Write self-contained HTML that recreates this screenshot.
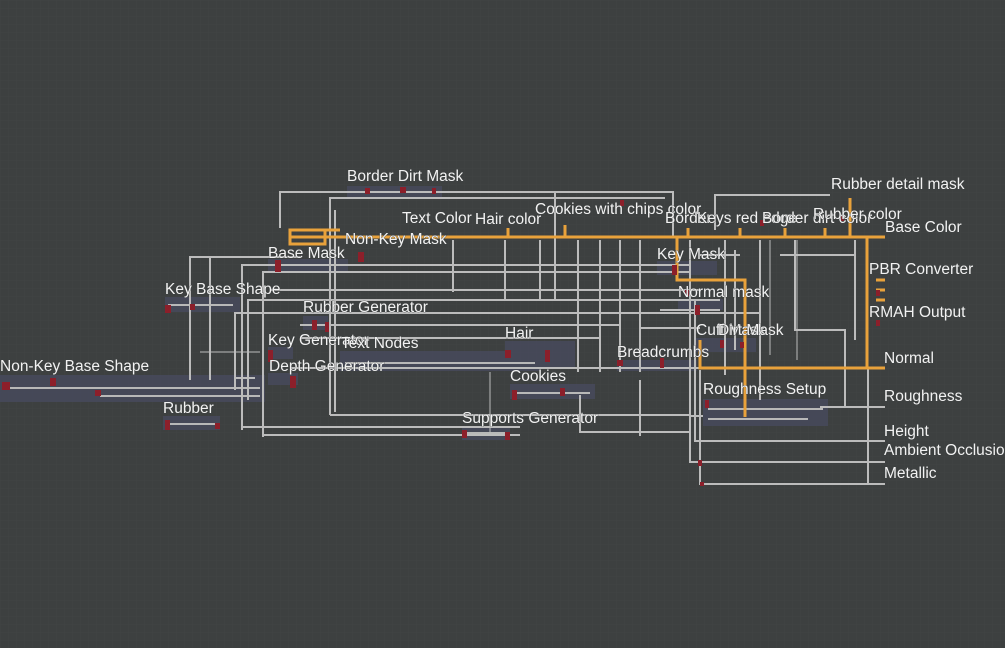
<!DOCTYPE html>
<html><head><meta charset="utf-8"><style>
html,body{margin:0;padding:0;background:#3d4040;width:1005px;height:648px;overflow:hidden}
svg{display:block}
text{font-family:"Liberation Sans","DejaVu Sans",sans-serif;font-size:15.5px;fill:#f2f2f2;stroke:#3d4040;stroke-width:0.6px;paint-order:stroke}
</style></head><body>
<svg width="1005" height="648" viewBox="0 0 1005 648" xmlns="http://www.w3.org/2000/svg">
<defs>
<pattern id="g" width="8" height="8" patternUnits="userSpaceOnUse"><path d="M8 0H0V8" fill="none" stroke="#434747" stroke-width="1"/></pattern>
</defs>
<rect width="1005" height="648" fill="#3d4040"/>
<rect width="1005" height="648" fill="url(#g)" opacity="0.6"/>

<g fill="#474a5c" opacity="0.85">
<rect x="0" y="375" width="265" height="27"/>
<rect x="165" y="297" width="75" height="15"/>
<rect x="340" y="351" width="200" height="20"/>
<rect x="505" y="341" width="70" height="27"/>
<rect x="510" y="384" width="85" height="15"/>
<rect x="703" y="399" width="125" height="27"/>
<rect x="163" y="416" width="57" height="14"/>
<rect x="462" y="426" width="48" height="14"/>
<rect x="347" y="186" width="95" height="11"/>
<rect x="617" y="360" width="80" height="11"/>
<rect x="268" y="347" width="25" height="12"/>
<rect x="268" y="373" width="30" height="12"/>
<rect x="268" y="259" width="80" height="13"/>
<rect x="303" y="316" width="25" height="14"/>
<rect x="657" y="261" width="60" height="14"/>
<rect x="678" y="299" width="45" height="11"/>
<rect x="696" y="338" width="60" height="14"/>
</g>
<g fill="#b8b8b8">
<rect x="5" y="387" width="255" height="2"/>
<rect x="100" y="395" width="160" height="2"/>
<rect x="345" y="362" width="190" height="2"/>
<rect x="708" y="408" width="115" height="2"/>
<rect x="708" y="418" width="100" height="2"/>
<rect x="515" y="392" width="75" height="2"/>
<rect x="168" y="304" width="65" height="2"/>
<rect x="170" y="423" width="45" height="2"/>
<rect x="465" y="432" width="40" height="2"/>
</g>

<g stroke="#bcbcbc" stroke-width="2" fill="none">
<path d="M280 228V192H673V238"/>
<path d="M330 415V198H665"/>
<path d="M335 412V210"/>
<path d="M190 380V257H300"/>
<path d="M210 380V257"/>
<path d="M242 430V265H690"/>
<path d="M263 437V272H690"/>
<path d="M235 390V313H760"/>
<path d="M248 400V300H700"/>
<path d="M270 290H700"/>
<path d="M300 325H620"/>
<path d="M300 338H600"/>
<path d="M255 378H235"/>
<path d="M330 415H690"/>
<path d="M242 427H520"/>
<path d="M263 435H520"/>
<path d="M290 368H700"/>
<path d="M453 240V292"/>
<path d="M505 240V300"/>
<path d="M555 192V300"/>
<path d="M540 240V300"/>
<path d="M578 240V372"/>
<path d="M600 240V372"/>
<path d="M620 240V372"/>
<path d="M640 240V372"/>
<path d="M690 240V462H885"/>
<path d="M695 300V441H885"/>
<path d="M700 370V484H885"/>
<path d="M715 230V195H830"/>
<path d="M725 240V375"/>
<path d="M735 250V350"/>
<path d="M760 240V400"/>
<path d="M795 240V330H845V407"/>
<path d="M855 240V340"/>
<path d="M820 407H885"/>
<path d="M868 368V483"/>
<path d="M690 416H703"/>
<path d="M580 395V432H690"/>
<path d="M640 380V436"/>
<path d="M610 300H720"/>
<path d="M640 275V300"/>
<path d="M660 310H720"/>
<path d="M830 255H855"/>
<path d="M700 255H740"/>
<path d="M780 255H830"/>
<path d="M640 328H700"/>
</g>
<g stroke="#bcbcbc" stroke-width="1" fill="none">
<path d="M200 352H260"/>
<path d="M490 372V435"/>
<path d="M797 240V360"/>
<path d="M770 240V355"/>
</g>

<g stroke="#e9a23b" stroke-width="3" fill="none">
<path d="M290 237H885"/>
<path d="M290 230H325V244H290Z"/>
<path d="M292 230H340"/>
<path d="M677 237V280H745V417"/>
<path d="M700 340V368H885"/>
<path d="M867 237V368"/>
<path d="M850 198V237"/>
<path d="M508 228V237"/>
<path d="M565 225V237"/>
<path d="M688 228V237"/>
<path d="M740 228V237"/>
<path d="M785 228V237"/>
<path d="M825 228V237"/>
<path d="M876 280H885M876 290H885M876 300H885"/>
</g>

<g fill="#8c1f2a">
<rect x="2" y="382" width="8" height="8"/><rect x="50" y="378" width="6" height="8"/><rect x="95" y="390" width="6" height="6"/>
<rect x="165" y="305" width="6" height="8"/><rect x="190" y="304" width="5" height="6"/>
<rect x="165" y="420" width="5" height="10"/><rect x="215" y="423" width="5" height="6"/>
<rect x="268" y="350" width="5" height="12"/><rect x="290" y="376" width="6" height="12"/>
<rect x="275" y="260" width="6" height="12"/><rect x="358" y="252" width="6" height="10"/>
<rect x="312" y="320" width="5" height="10"/><rect x="325" y="322" width="4" height="10"/>
<rect x="505" y="350" width="6" height="8"/><rect x="545" y="350" width="5" height="12"/>
<rect x="512" y="390" width="5" height="10"/><rect x="560" y="388" width="5" height="8"/>
<rect x="462" y="430" width="5" height="8"/><rect x="505" y="432" width="5" height="8"/>
<rect x="617" y="360" width="6" height="6"/><rect x="660" y="358" width="4" height="10"/>
<rect x="672" y="265" width="5" height="10"/><rect x="685" y="290" width="4" height="6"/>
<rect x="695" y="305" width="5" height="10"/><rect x="720" y="340" width="4" height="8"/>
<rect x="740" y="342" width="4" height="6"/><rect x="705" y="400" width="4" height="8"/>
<rect x="876" y="290" width="4" height="6"/><rect x="876" y="320" width="4" height="6"/>
<rect x="365" y="188" width="5" height="6"/><rect x="400" y="187" width="6" height="6"/>
<rect x="432" y="188" width="4" height="6"/><rect x="760" y="220" width="4" height="6"/>
<rect x="700" y="482" width="4" height="4"/><rect x="698" y="460" width="4" height="6"/>
<rect x="840" y="215" width="4" height="6"/><rect x="620" y="200" width="4" height="6"/>
</g>

<text x="347" y="181">Border Dirt Mask</text>
<text x="831" y="189">Rubber detail mask</text>
<text x="535" y="214">Cookies with chips color</text>
<text x="402" y="223">Text Color</text>
<text x="475" y="224">Hair color</text>
<text x="665" y="223">Border</text>
<text x="697" y="223">Keys red edge</text>
<text x="762" y="223">Border dirt color</text>
<text x="813" y="219">Rubber color</text>
<text x="885" y="232">Base Color</text>
<text x="345" y="244">Non-Key Mask</text>
<text x="268" y="258">Base Mask</text>
<text x="657" y="259">Key Mask</text>
<text x="869" y="274">PBR Converter</text>
<text x="165" y="294">Key Base Shape</text>
<text x="678" y="297">Normal mask</text>
<text x="303" y="312">Rubber Generator</text>
<text x="869" y="317">RMAH Output</text>
<text x="696" y="335">Cuff Mask</text>
<text x="718" y="335">Dirt Mask</text>
<text x="505" y="338">Hair</text>
<text x="268" y="345">Key Generator</text>
<text x="341" y="348">Text Nodes</text>
<text x="617" y="357">Breadcrumbs</text>
<text x="884" y="363">Normal</text>
<text x="0" y="371">Non-Key Base Shape</text>
<text x="269" y="371">Depth Generator</text>
<text x="510" y="381">Cookies</text>
<text x="703" y="394">Roughness Setup</text>
<text x="884" y="401">Roughness</text>
<text x="163" y="413">Rubber</text>
<text x="462" y="423">Supports Generator</text>
<text x="884" y="436">Height</text>
<text x="884" y="455">Ambient Occlusion</text>
<text x="884" y="478">Metallic</text>
</svg>
</body></html>
